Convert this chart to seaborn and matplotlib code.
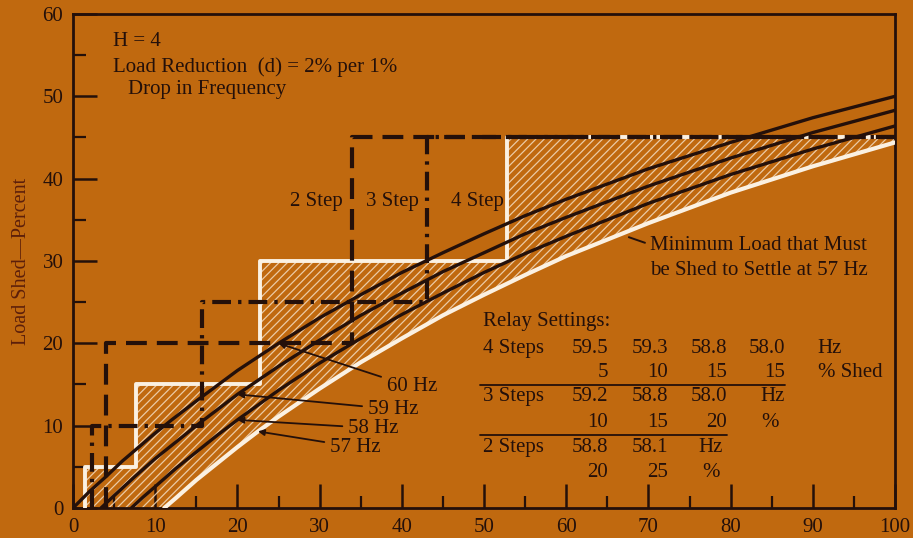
import numpy as np
import pandas as pd
import matplotlib
matplotlib.use("Agg")
import matplotlib.pyplot as plt
import seaborn as sns

# Minimum load that must be shed (percent) versus overload (percent), per settling frequency
overload_60 = [0, 2, 4, 6, 8, 10, 12, 15, 20, 25, 30, 35, 40, 45, 50, 55, 60, 70, 80, 90, 100]
shed_60 = [0, 2.0, 3.8, 5.7, 7.4, 9.1, 10.7, 13.0, 16.7, 20.0, 23.1, 25.9, 28.6, 31.0, 33.3,
           35.5, 37.5, 41.2, 44.4, 47.4, 50.0]

overload_59 = [3.4, 5, 7.5, 10, 12.5, 15, 20, 25, 30, 35, 40, 45, 50, 55, 60, 70, 80, 90, 100]
shed_59 = [0, 1.5, 3.8, 6.0, 8.0, 10.0, 13.8, 17.2, 20.4, 23.4, 26.1, 28.7, 31.0, 33.3, 35.3,
           39.1, 42.5, 45.6, 48.3]

overload_58 = [7.1, 8.5, 10, 12.5, 15, 17.5, 20, 25, 30, 35, 40, 45, 50, 55, 60, 70, 80, 90, 100]
shed_58 = [0, 1.3, 2.6, 4.8, 6.8, 8.8, 10.7, 14.3, 17.6, 20.6, 23.5, 26.1, 28.6, 30.9, 33.0,
           37.0, 40.5, 43.6, 46.4]

overload_57 = [11.1, 12.5, 15, 17.5, 20, 22.5, 25, 30, 35, 40, 45, 50, 55, 60, 70, 80, 90, 100]
shed_57 = [0, 1.2, 3.4, 5.4, 7.4, 9.3, 11.1, 14.5, 17.7, 20.6, 23.4, 25.9, 28.3, 30.6, 34.6,
           38.3, 41.5, 44.4]

# Relay settings: trip frequency (Hz), load shed per step (%), overload at which each step acts
freq_4 = [59.5, 59.3, 58.8, 58.0]
pct_4 = [5, 10, 15, 15]
trip_4 = [1.5, 7.7, 22.7, 52.8]

freq_3 = [59.2, 58.8, 58.0]
pct_3 = [10, 15, 20]
trip_3 = [2.3, 15.7, 43.1]

freq_2 = [58.8, 58.1]
pct_2 = [20, 25]
trip_2 = [4.0, 33.9]

x_ticks = list(range(0, 101, 10))
y_ticks = list(range(0, 61, 10))

BG = "#C0690F"
INK = "#24100A"
WHITE = "#FBF1E2"
HATCH = "#F3DCC0"

sns.set_theme(style="ticks")
plt.rcParams["font.family"] = ["Liberation Serif", "DejaVu Serif"]
plt.rcParams["hatch.linewidth"] = 0.9

fig = plt.figure(figsize=(9.13, 5.38), dpi=100)
fig.patch.set_facecolor(BG)
ax = fig.add_axes([0.080, 0.0558, 0.9003, 0.9182])
ax.set_facecolor(BG)


def step_path(trips, pcts, x_end=100):
    levels = list(np.cumsum(pcts))
    xs = [trips[0]] + list(trips) + [x_end]
    ys = [0] + levels + [levels[-1]]
    return xs, ys


# Hatched zone between the 4-step schedule and the 57 Hz minimum
sx, sy = step_path(trip_4, pct_4)
ex, ey = [sx[0]], [sy[0]]
for i in range(1, len(sx)):
    ex += [sx[i], sx[i]]
    ey += [sy[i - 1], sy[i]]
ex[-1], ey[-1] = sx[-1], sy[-1]
poly_x = ex + overload_57[::-1] + [sx[0]]
poly_y = ey + shed_57[::-1] + [0]
ax.fill(poly_x, poly_y, facecolor="none", edgecolor=HATCH, hatch="////", linewidth=0,
        alpha=0.85, zorder=1)

# Settling-frequency curves
curves = pd.concat([
    pd.DataFrame({"overload": overload_60, "shed": shed_60, "freq": "60 Hz"}),
    pd.DataFrame({"overload": overload_59, "shed": shed_59, "freq": "59 Hz"}),
    pd.DataFrame({"overload": overload_58, "shed": shed_58, "freq": "58 Hz"}),
])
sns.lineplot(data=curves, x="overload", y="shed", hue="freq",
             palette=[INK, INK, INK], linewidth=2.4, legend=False,
             estimator=None, sort=False, ax=ax, zorder=4)
sns.lineplot(x=overload_57, y=shed_57, color=WHITE, linewidth=3.0,
             estimator=None, sort=False, ax=ax, zorder=3)

# Step schedules
sns.lineplot(x=sx, y=sy, color=WHITE, linewidth=2.8, drawstyle="steps-post",
             estimator=None, sort=False, ax=ax, zorder=3)
x3, y3 = step_path(trip_3, pct_3)
sns.lineplot(x=x3, y=y3, color=INK, linewidth=3.0, drawstyle="steps-post",
             linestyle=(0, (4.5, 1.7, 0.8, 1.7)),
             estimator=None, sort=False, ax=ax, zorder=5)
x2, y2 = step_path(trip_2, pct_2)
sns.lineplot(x=x2, y=y2, color=INK, linewidth=3.0, drawstyle="steps-post",
             linestyle=(0, (5, 2.4)),
             estimator=None, sort=False, ax=ax, zorder=5)

# Axes styling
ax.set_xlim(0, 100)
ax.set_ylim(0, 60)
ax.set_xticks(x_ticks)
ax.set_yticks(y_ticks)
ax.set_xticks(range(5, 100, 10), minor=True)
ax.set_yticks(range(5, 60, 10), minor=True)
ax.tick_params(which="major", direction="in", length=17, width=1.8, color=INK,
               labelsize=15, labelcolor=INK, pad=7)
ax.tick_params(which="minor", direction="in", length=9, width=1.6, color=INK)
for side in ["left", "bottom", "top", "right"]:
    ax.spines[side].set_visible(True)
    ax.spines[side].set_color(INK)
    ax.spines[side].set_linewidth(2.0)
ax.set_xlabel("")
ax.set_ylabel("Load Shed\u2014Percent", fontsize=14.5, color="#5C1F0A", labelpad=8)

tk = dict(color=INK, fontsize=15)

# Header notes
ax.text(4.9, 56.7, "H = 4", va="center", ha="left", **tk)
ax.text(4.9, 53.6, "Load Reduction  (d) = 2% per 1%", va="center", ha="left", **tk)
ax.text(6.7, 50.8, "Drop in Frequency", va="center", ha="left", **tk)

# Step labels
ax.text(29.6, 37.2, "2 Step", va="center", ha="center", **tk)
ax.text(38.9, 37.2, "3 Step", va="center", ha="center", **tk)
ax.text(49.2, 37.2, "4 Step", va="center", ha="center", **tk)

# Minimum-load note
ax.text(70.2, 31.9, "Minimum Load that Must", va="center", ha="left", **tk)
ax.text(70.2, 28.9, "be Shed to Settle at 57 Hz", va="center", ha="left", **tk)
ax.annotate("", xy=(67.3, 33.0), xytext=(69.9, 32.1),
            arrowprops=dict(arrowstyle="-", color=INK, lw=1.4))

# Curve labels with leaders
arrow = dict(arrowstyle="-|>", color=INK, lw=1.3, mutation_scale=9, shrinkA=2, shrinkB=0)
ax.annotate("60 Hz", xy=(overload_60[9], shed_60[9]), xytext=(38.2, 14.7),
            va="center", ha="left", arrowprops=arrow, **tk)
ax.annotate("59 Hz", xy=(overload_59[6], shed_59[6]), xytext=(35.9, 12.0),
            va="center", ha="left", arrowprops=arrow, **tk)
ax.annotate("58 Hz", xy=(overload_58[6], shed_58[6]), xytext=(33.5, 9.7),
            va="center", ha="left", arrowprops=arrow, **tk)
ax.annotate("57 Hz", xy=(overload_57[5], shed_57[5]), xytext=(31.3, 7.4),
            va="center", ha="left", arrowprops=arrow, **tk)

# Relay settings table
col_x = [65.1, 72.4, 79.6, 86.6]
lab_x = 49.9
ax.text(lab_x, 22.6, "Relay Settings:", va="center", ha="left", **tk)

ax.text(lab_x, 19.4, "4 Steps", va="center", ha="left", **tk)
for cx, f in zip(col_x, freq_4):
    ax.text(cx, 19.4, f"{f:.1f}", va="center", ha="right", **tk)
ax.text(90.6, 19.4, "Hz", va="center", ha="left", **tk)
for cx, p in zip(col_x, pct_4):
    ax.text(cx, 16.5, f"{p}", va="center", ha="right", **tk)
ax.text(90.6, 16.5, "% Shed", va="center", ha="left", **tk)
ax.plot([49.5, 86.6], [14.9, 14.9], color=INK, lw=1.3)

ax.text(lab_x, 13.5, "3 Steps", va="center", ha="left", **tk)
for cx, f in zip(col_x, freq_3):
    ax.text(cx, 13.5, f"{f:.1f}", va="center", ha="right", **tk)
ax.text(col_x[3], 13.5, "Hz", va="center", ha="right", **tk)
for cx, p in zip(col_x, pct_3):
    ax.text(cx, 10.4, f"{p}", va="center", ha="right", **tk)
ax.text(col_x[3] - 0.8, 10.4, "%", va="center", ha="right", **tk)
ax.plot([49.5, 79.6], [8.9, 8.9], color=INK, lw=1.3)

ax.text(lab_x, 7.4, "2 Steps", va="center", ha="left", **tk)
for cx, f in zip(col_x, freq_2):
    ax.text(cx, 7.4, f"{f:.1f}", va="center", ha="right", **tk)
ax.text(col_x[2] - 0.5, 7.4, "Hz", va="center", ha="right", **tk)
for cx, p in zip(col_x, pct_2):
    ax.text(cx, 4.3, f"{p}", va="center", ha="right", **tk)
ax.text(col_x[2] - 0.9, 4.3, "%", va="center", ha="right", **tk)

fig.savefig("out.png", dpi=100, facecolor=BG)
